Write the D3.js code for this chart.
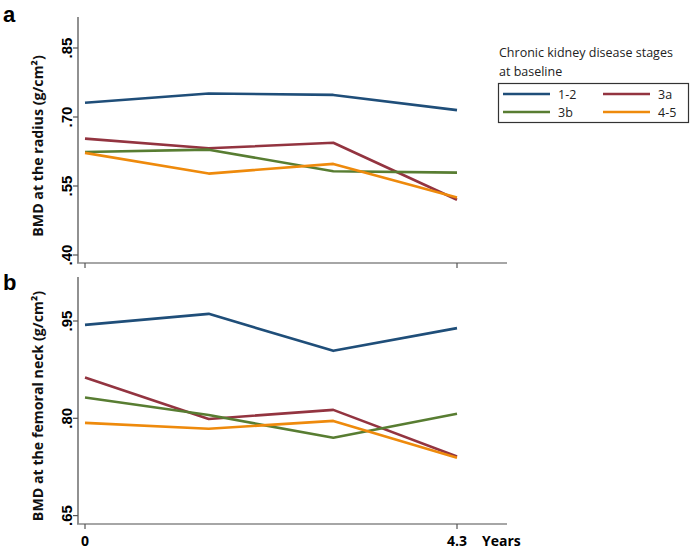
<!DOCTYPE html>
<html><head><meta charset="utf-8">
<script src="https://cdn.jsdelivr.net/npm/d3@7"></script>
<style>body{margin:0;background:#fff}svg{display:block}</style>
</head><body>
<svg id="c" width="690" height="552"></svg>
<script>
const years = [0, 1.43, 2.87, 4.3];
const xTicks = [0, 4.3];
const xTickLabels = ["0", "4.3"];
const stages = ["1-2", "3a", "3b", "4-5"];
const colors = ["#1f4e79", "#933440", "#587d32", "#ee8a0c"];
const radius12 = [0.731, 0.751, 0.748, 0.715];
const radius3a = [0.653, 0.632, 0.644, 0.520];
const radius3b = [0.624, 0.629, 0.582, 0.579];
const radius45 = [0.622, 0.577, 0.598, 0.525];
const neck12 = [0.944, 0.961, 0.904, 0.939];
const neck3a = [0.863, 0.799, 0.813, 0.741];
const neck3b = [0.832, 0.805, 0.770, 0.807];
const neck45 = [0.793, 0.784, 0.796, 0.739];
const radiusTicks = [0.40, 0.55, 0.70, 0.85];
const neckTicks = [0.65, 0.80, 0.95];

const svg = d3.select("#c");
const x = d3.scaleLinear().domain([0, 4.3]).range([85, 457]);
const fmt = v => d3.format(".2f")(v).replace(/^0/, "");

function panel(opt) {
  const y = d3.scaleLinear().domain(opt.domain).range(opt.range);
  const g = svg.append("g");
  // y axis
  g.append("line").attr("x1", 78).attr("x2", 78).attr("y1", opt.top).attr("y2", opt.bottom).attr("stroke", "#555").attr("stroke-width", 1.3);
  opt.ticks.forEach(t => {
    g.append("line").attr("x1", 73).attr("x2", 78).attr("y1", y(t)).attr("y2", y(t)).attr("stroke", "#555").attr("stroke-width", 1.2);
    g.append("text").attr("transform", `translate(72,${y(t)}) rotate(-90)`)
      .attr("text-anchor", "middle").attr("font-family", "Liberation Sans, Arial").attr("font-weight", "bold")
      .attr("font-size", 15).attr("fill", "#000").text(fmt(t));
  });
  // x axis
  g.append("line").attr("x1", 77).attr("x2", 507).attr("y1", opt.bottom).attr("y2", opt.bottom).attr("stroke", "#888").attr("stroke-width", 1.5);
  xTicks.forEach(t => {
    g.append("line").attr("x1", x(t)).attr("x2", x(t)).attr("y1", opt.bottom).attr("y2", opt.bottom + 5).attr("stroke", "#555").attr("stroke-width", 1.2);
  });
  // title
  g.append("text").attr("transform", `translate(43,${opt.titleY}) rotate(-90)`)
    .attr("text-anchor", "middle").attr("font-family", "Open Sans, Noto Sans, sans-serif").attr("font-weight", "bold")
    .attr("font-size", 14.2).attr("fill", "#111").text(opt.title);
  // panel label
  g.append("text").attr("x", 3).attr("y", opt.labelY).attr("font-family", "Liberation Sans, Arial").attr("font-weight", "bold").attr("font-size", 22).text(opt.label);
  const line = d3.line().x((d, i) => x(years[i])).y(d => y(d));
  opt.series.forEach((s, i) => {
    g.append("path").attr("d", line(s)).attr("fill", "none").attr("stroke", colors[i]).attr("stroke-width", 2.6).attr("stroke-linejoin", "round");
  });
}

panel({domain: [0.70, 0.85], range: [117, 48], top: 17, bottom: 263, ticks: radiusTicks,
  title: "BMD at the radius (g/cm²)", label: "a", labelY: 22, titleY: 146,
  series: [radius12, radius3a, radius3b, radius45]});
panel({domain: [0.80, 0.95], range: [418.3, 321], top: 277, bottom: 524, ticks: neckTicks,
  title: "BMD at the femoral neck (g/cm²)", label: "b", labelY: 290, titleY: 406,
  series: [neck12, neck3a, neck3b, neck45]});

// x tick labels
xTicks.forEach((t, i) => {
  svg.append("text").attr("x", x(t)).attr("y", 546).attr("text-anchor", "middle")
    .attr("font-family", "Open Sans, Noto Sans, sans-serif").attr("font-weight", "bold").attr("font-size", 14).text(xTickLabels[i]);
});
svg.append("text").attr("x", 482).attr("y", 546).attr("font-family", "Open Sans, Noto Sans, sans-serif").attr("font-weight", "bold").attr("font-size", 14).text("Years");

// legend
const lg = svg.append("g");
lg.append("text").attr("x", 499).attr("y", 57).attr("font-family", "Open Sans, Noto Sans, sans-serif").attr("font-size", 12.5).attr("fill", "#222").text("Chronic kidney disease stages");
lg.append("text").attr("x", 499).attr("y", 76).attr("font-family", "Open Sans, Noto Sans, sans-serif").attr("font-size", 12.5).attr("fill", "#222").text("at baseline");
lg.append("rect").attr("x", 498.5).attr("y", 83.5).attr("width", 190).attr("height", 39).attr("fill", "none").attr("stroke", "#333").attr("stroke-width", 1.2);
const legOrder = [[0, 503, 94], [1, 603, 94], [2, 503, 112], [3, 603, 112]];
legOrder.forEach(([i, lx, ly]) => {
  lg.append("line").attr("x1", lx).attr("x2", lx + 47).attr("y1", ly).attr("y2", ly).attr("stroke", colors[i]).attr("stroke-width", 2.6);
  lg.append("text").attr("x", lx + 55).attr("y", ly + 5).attr("font-family", "Open Sans, Noto Sans, sans-serif").attr("font-size", 12.5).attr("fill", "#222").text(stages[i]);
});
</script>
</body></html>
